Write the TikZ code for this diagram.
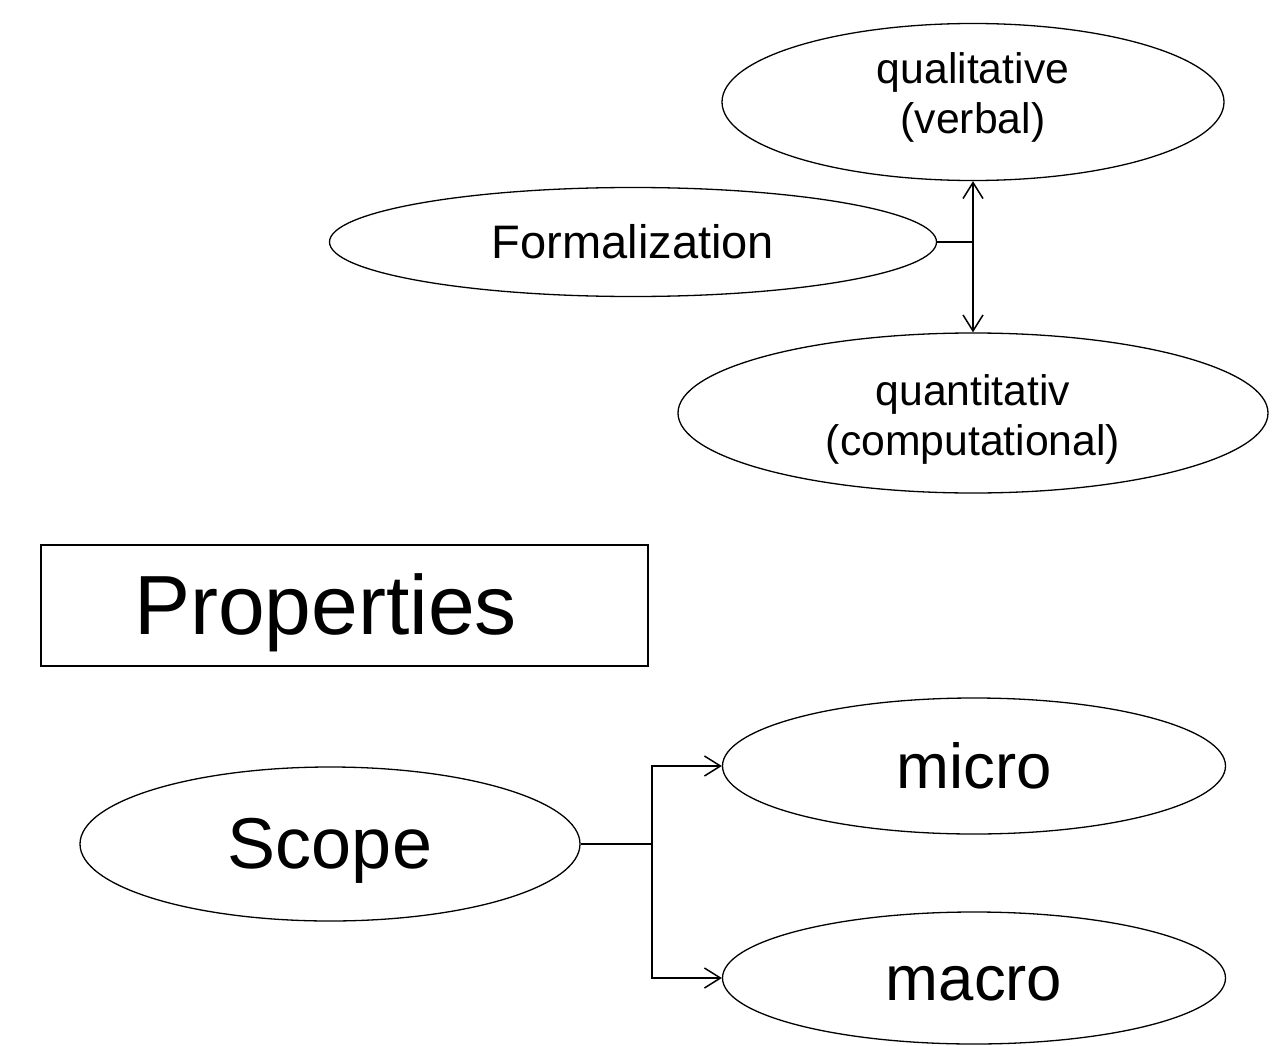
\documentclass[tikz,border=0pt]{standalone}
\usepackage{fontspec}
\setmainfont{Liberation Sans}
\usetikzlibrary{shapes.geometric,arrows.meta}
\tikzset{
  oval/.style={ellipse, draw, line width=1.3pt, inner sep=0pt, align=center},
  labelbox/.style={rectangle, draw, line width=1.3pt, inner sep=0pt},
  link/.style={line width=1.5pt},
  tip/.style={link, -{Straight Barb[length=16pt,width=20pt,line width=1.5pt]}},
}
% font size with a fixed line distance
\newcommand{\fs}[2]{\fontsize{#1}{#2}\selectfont}
\begin{document}
\begin{tikzpicture}[x=1pt,y=-1pt]
  \useasboundingbox (0,0) rectangle (1274,1046);

  % formalization branch
  \node[oval, minimum width=502pt, minimum height=157pt, font=\fs{42.7pt}{50pt}]
    (qual) at (973,102) {qualitative\\(verbal)\rule[-17pt]{0pt}{17pt}};
  \node[oval, minimum width=607pt, minimum height=109pt, font=\fs{47pt}{56pt},
        text height=42.5pt, text depth=10pt]
    (form) at (633,242) {Formalization};
  \node[oval, minimum width=590pt, minimum height=160pt, font=\fs{42.7pt}{50pt}]
    (quant) at (973,413) {\rule{0pt}{43pt}quantitativ\\(computational)};

  \coordinate (j1) at (973,242);
  \draw[link] (form.east) -- (j1);
  \draw[tip] (j1) -- (qual.south);
  \draw[tip] (j1) -- (quant.north);

  % heading
  \node[labelbox, minimum width=607pt, minimum height=121pt, font=\fs{84pt}{100pt},
        text height=76pt, text depth=17.8pt]
    (prop) at (344.5,605.5) {Properties\hspace*{38pt}};

  % scope branch
  \node[oval, minimum width=500pt, minimum height=154pt, font=\fs{72pt}{86pt},
        text height=65.2pt, text depth=15.3pt]
    (scope) at (330,844) {Scope};
  \node[oval, minimum width=503pt, minimum height=136pt, font=\fs{63.5pt}{76pt},
        text height=57.5pt, text depth=13.5pt]
    (micro) at (974,766) {micro};
  \node[oval, minimum width=503pt, minimum height=132pt, font=\fs{63.5pt}{76pt},
        text height=57.5pt, text depth=13.5pt]
    (macro) at (974,978) {macro};

  \coordinate (j2) at (652,844);
  \draw[link] (scope.east) -- (j2);
  \draw[tip] (j2) |- (micro.west);
  \draw[tip] (j2) |- (macro.west);
\end{tikzpicture}
\end{document}
